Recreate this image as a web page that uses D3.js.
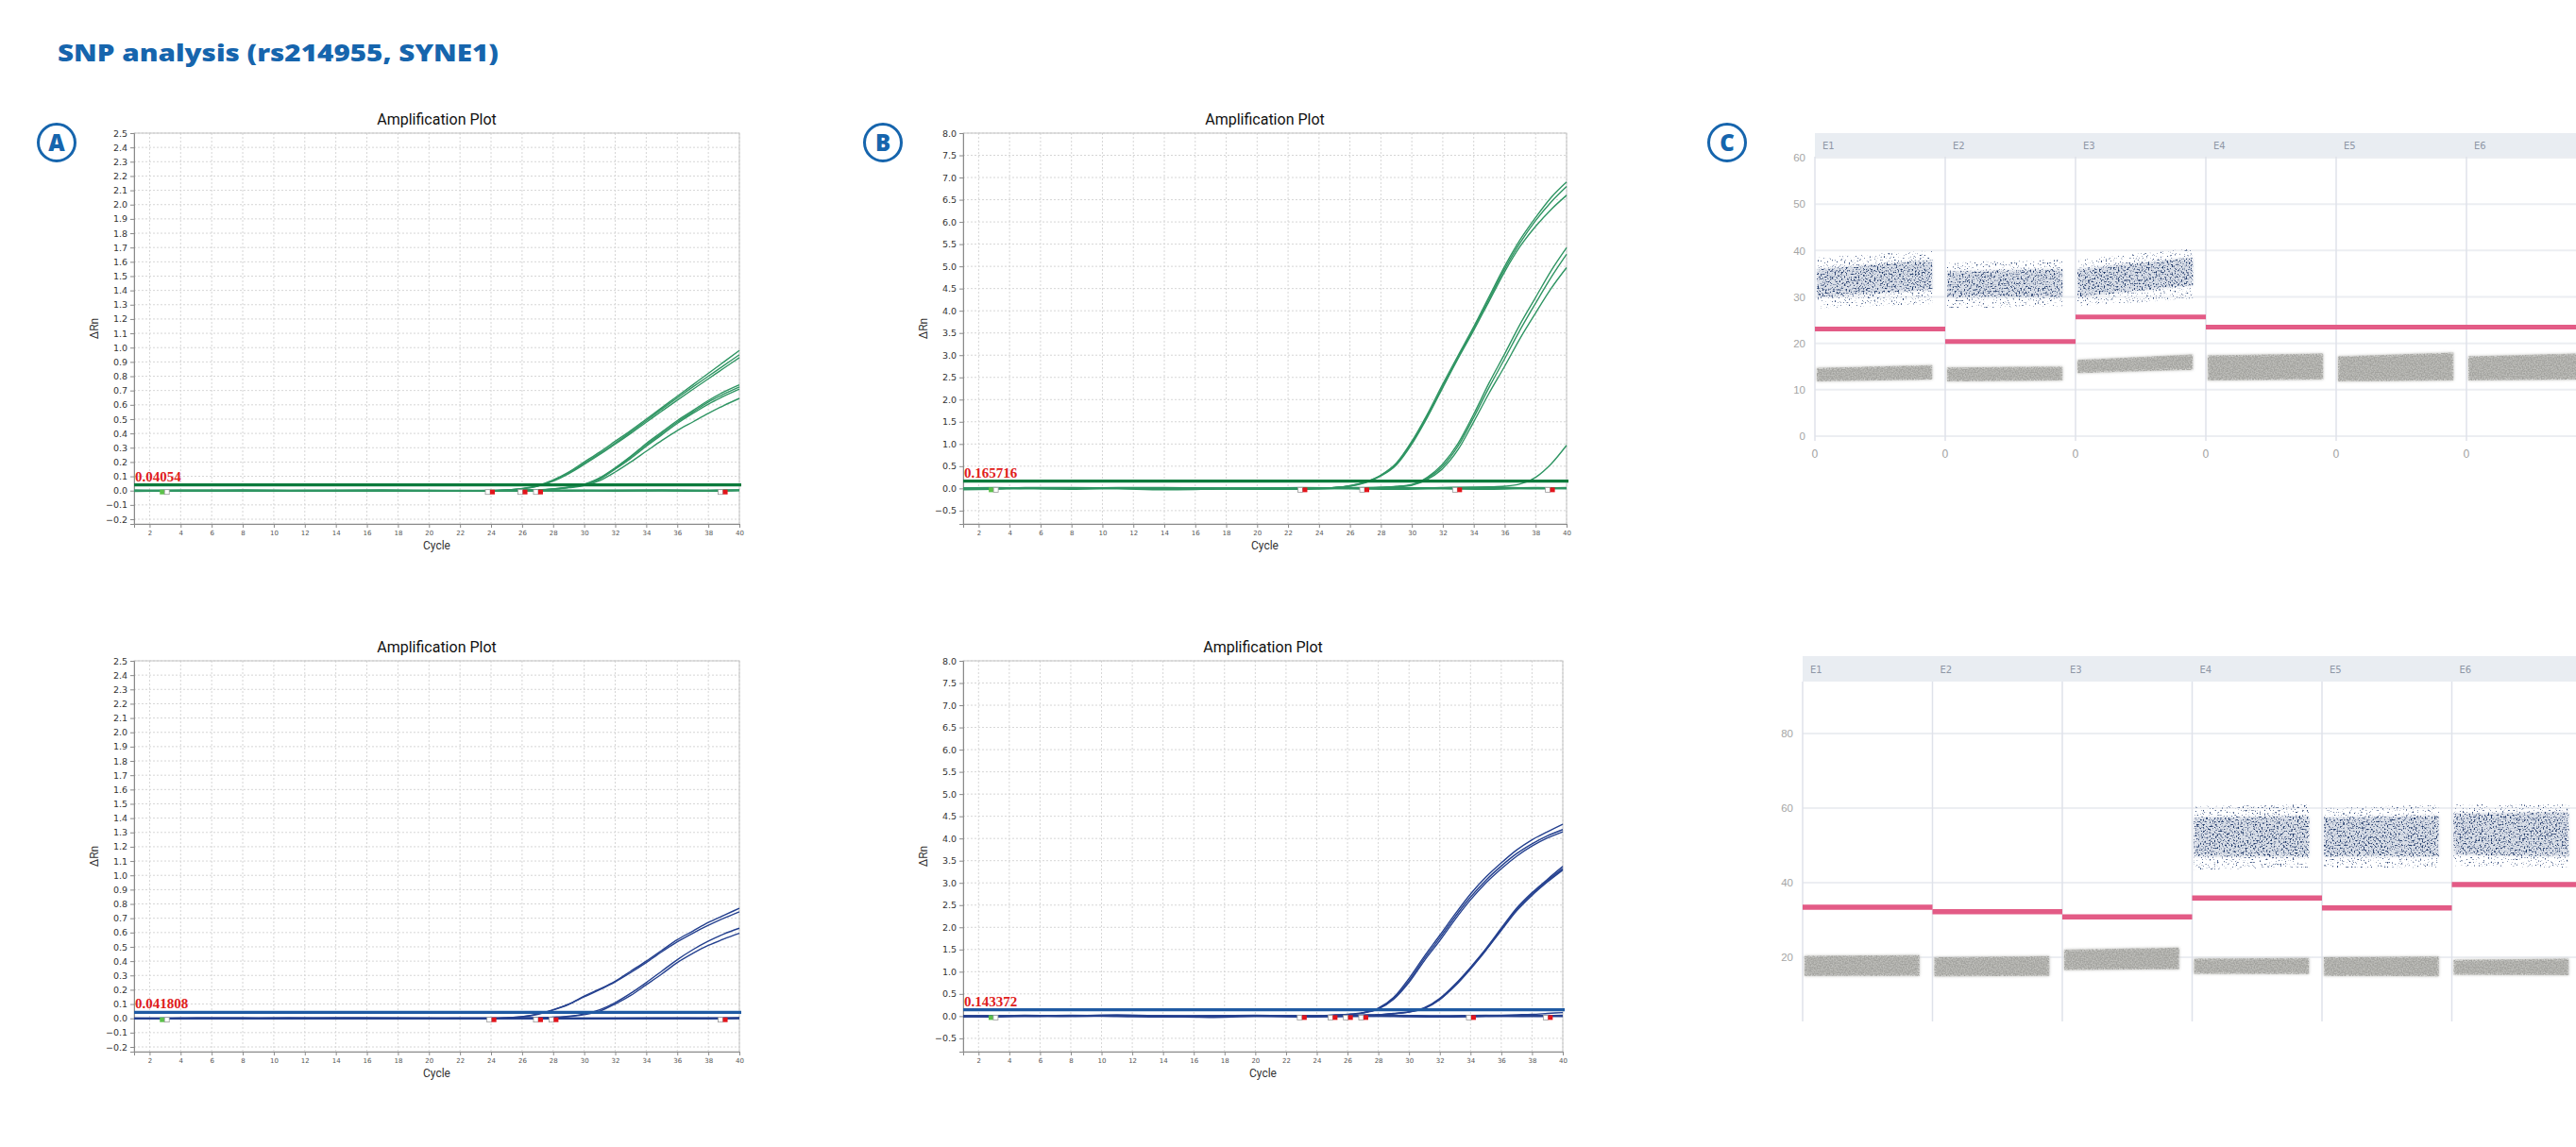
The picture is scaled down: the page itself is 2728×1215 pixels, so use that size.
<!DOCTYPE html>
<html>
<head>
<meta charset="utf-8">
<script src="https://cdn.jsdelivr.net/npm/d3@7"></script>
<style>
  body { margin: 0; background: #fff; }
</style>
</head>
<body>
<div id="chart"></div>
<script>

// ---- amplification plots: cycles and delta Rn values
const cycles = [1, 10, 20, 24, 25, 26, 27, 28, 29, 30, 31, 32, 33, 34, 35, 36, 37, 38, 39, 40];
const baseCycles = [1, 3, 5, 8, 11, 14, 17, 20, 23, 26, 29, 32, 35, 38, 40];
const xTicks = [2, 4, 6, 8, 10, 12, 14, 16, 18, 20, 22, 24, 26, 28, 30, 32, 34, 36, 38, 40];

const yTicksA = [-0.2, -0.1, 0, 0.1, 0.2, 0.3, 0.4, 0.5, 0.6, 0.7, 0.8, 0.9, 1.0, 1.1, 1.2, 1.3, 1.4,
                 1.5, 1.6, 1.7, 1.8, 1.9, 2.0, 2.1, 2.2, 2.3, 2.4, 2.5];
const yTicksB = [-0.5, 0, 0.5, 1.0, 1.5, 2.0, 2.5, 3.0, 3.5, 4.0, 4.5, 5.0, 5.5, 6.0, 6.5, 7.0, 7.5, 8.0];

// A, top row (green)
const curvesTopA = [
  [0, 0, 0, 0, 0.005, 0.015, 0.035, 0.075, 0.13, 0.2, 0.27, 0.345, 0.42, 0.5, 0.58, 0.66, 0.74, 0.82, 0.9, 0.98],
  [0, 0, 0, 0, 0.004, 0.013, 0.032, 0.07, 0.124, 0.19, 0.26, 0.333, 0.41, 0.49, 0.57, 0.648, 0.725, 0.8, 0.875, 0.95],
  [0, 0, 0, 0, 0.004, 0.012, 0.03, 0.066, 0.118, 0.183, 0.252, 0.325, 0.4, 0.478, 0.556, 0.633, 0.708, 0.782, 0.856, 0.93],
  [0, 0, 0, 0, 0, 0.002, 0.005, 0.012, 0.025, 0.045, 0.09, 0.16, 0.24, 0.33, 0.41, 0.49, 0.56, 0.63, 0.69, 0.74],
  [0, 0, 0, 0, 0, 0.002, 0.004, 0.011, 0.023, 0.042, 0.085, 0.155, 0.235, 0.32, 0.4, 0.48, 0.55, 0.62, 0.675, 0.725],
  [0, 0, 0, 0, 0, 0.002, 0.004, 0.01, 0.022, 0.04, 0.08, 0.15, 0.225, 0.31, 0.39, 0.47, 0.54, 0.605, 0.66, 0.71],
  [0, 0, 0, 0, 0, 0.001, 0.003, 0.009, 0.02, 0.035, 0.07, 0.13, 0.2, 0.275, 0.35, 0.42, 0.48, 0.54, 0.595, 0.645]
];
const baseTopA = [
  [0.002, -0.001, 0.001, 0, -0.002, 0.001, 0, -0.002, -0.001, 0.001, -0.001, 0, 0.001, -0.002, 0.002],
  [-0.003, 0.001, 0, 0.002, 0.001, -0.001, 0.002, 0, -0.002, 0, 0.001, -0.001, 0.002, 0.001, 0.003]
];

// B, top row (green)
const curvesTopB = [
  [0, 0, 0, 0.01, 0.02, 0.06, 0.15, 0.3, 0.57, 1.06, 1.67, 2.35, 3.0, 3.64, 4.32, 5.0, 5.6, 6.1, 6.55, 6.9],
  [0, 0, 0, 0.01, 0.02, 0.055, 0.14, 0.29, 0.55, 1.03, 1.63, 2.3, 2.96, 3.6, 4.27, 4.94, 5.53, 6.03, 6.45, 6.8],
  [0, 0, 0, 0.01, 0.02, 0.05, 0.13, 0.28, 0.53, 1.0, 1.6, 2.27, 2.93, 3.56, 4.22, 4.88, 5.45, 5.9, 6.28, 6.6],
  [0, 0, 0, 0, 0, 0.01, 0.015, 0.025, 0.045, 0.09, 0.25, 0.55, 1.02, 1.67, 2.38, 3.03, 3.7, 4.3, 4.9, 5.42],
  [0, 0, 0, 0, 0, 0.01, 0.015, 0.022, 0.04, 0.08, 0.23, 0.5, 0.96, 1.6, 2.28, 2.92, 3.57, 4.17, 4.75, 5.27],
  [0, 0, 0, 0, 0, 0.01, 0.012, 0.02, 0.035, 0.07, 0.2, 0.45, 0.88, 1.5, 2.15, 2.75, 3.38, 3.95, 4.5, 4.97],
  [0, 0, 0, 0, 0, 0, 0, 0, 0, 0.01, 0.01, 0.015, 0.02, 0.025, 0.035, 0.05, 0.1, 0.25, 0.55, 0.97]
];
const baseTopB = [
  [-0.02, -0.01, 0.01, 0.01, 0.0, -0.02, -0.01, 0.0, 0.01, 0.0, -0.01, 0.01, 0.02, 0.0, 0.01],
  [0.0, 0.01, 0.0, -0.01, 0.01, 0.01, 0.0, -0.01, -0.01, 0.01, 0.01, 0.0, -0.01, 0.01, 0.0]
];

// A, bottom row (blue)
const curvesBotA = [
  [0, 0, 0, 0, 0.004, 0.012, 0.03, 0.06, 0.1, 0.155, 0.205, 0.26, 0.33, 0.4, 0.475, 0.55, 0.61, 0.67, 0.72, 0.77],
  [0, 0, 0, 0, 0.004, 0.011, 0.028, 0.058, 0.097, 0.15, 0.2, 0.255, 0.32, 0.39, 0.465, 0.535, 0.595, 0.65, 0.7, 0.745],
  [0, 0, 0, 0, 0, 0.001, 0.003, 0.008, 0.015, 0.03, 0.06, 0.11, 0.175, 0.25, 0.33, 0.41, 0.48, 0.54, 0.59, 0.63],
  [0, 0, 0, 0, 0, 0.001, 0.003, 0.006, 0.012, 0.025, 0.05, 0.1, 0.16, 0.235, 0.31, 0.39, 0.455, 0.51, 0.555, 0.595]
];
const baseBotA = [
  [0.001, -0.002, 0.001, 0, -0.001, 0.002, 0, -0.001, 0.001, 0, -0.002, 0.001, 0, -0.001, 0.002],
  [-0.002, 0.001, 0, 0.001, 0.002, -0.001, 0.001, 0, -0.001, 0.001, 0.001, -0.002, -0.001, 0.001, 0.001]
];

// B, bottom row (blue)
const curvesBotB = [
  [0, 0, 0, 0.01, 0.02, 0.04, 0.08, 0.18, 0.42, 0.85, 1.35, 1.82, 2.3, 2.75, 3.13, 3.45, 3.74, 3.97, 4.15, 4.32],
  [0, 0, 0, 0.01, 0.02, 0.035, 0.075, 0.17, 0.4, 0.8, 1.3, 1.76, 2.24, 2.68, 3.06, 3.38, 3.66, 3.88, 4.06, 4.2],
  [0, 0, 0, 0.01, 0.02, 0.035, 0.07, 0.16, 0.38, 0.76, 1.25, 1.7, 2.18, 2.62, 3.0, 3.32, 3.6, 3.83, 4.01, 4.15],
  [0, 0, 0, 0, 0.005, 0.01, 0.02, 0.03, 0.06, 0.1, 0.19, 0.4, 0.72, 1.1, 1.52, 1.98, 2.43, 2.78, 3.08, 3.37],
  [0, 0, 0, 0, 0.005, 0.01, 0.02, 0.03, 0.055, 0.095, 0.18, 0.38, 0.7, 1.08, 1.5, 1.95, 2.4, 2.75, 3.05, 3.32],
  [0, 0, 0, 0, 0.005, 0.01, 0.02, 0.028, 0.05, 0.09, 0.17, 0.37, 0.68, 1.06, 1.48, 1.93, 2.37, 2.72, 3.02, 3.29],
  [0, 0, 0, 0, 0, 0, 0, 0, 0, 0, 0, 0, 0, 0.01, 0.015, 0.02, 0.03, 0.04, 0.06, 0.08]
];
const baseBotB = [
  [0.0, -0.01, 0.01, 0.0, 0.02, 0.0, -0.02, 0.0, 0.0, 0.01, 0.0, -0.01, 0.0, 0.01, 0.0],
  [-0.01, 0.0, 0.0, 0.01, 0.0, -0.01, 0.0, 0.01, -0.01, 0.0, 0.01, 0.0, 0.01, 0.0, 0.01]
];

const thresholds = [0.04054, 0.165716, 0.041808, 0.143372];
const thresholdLabels = ["0.04054", "0.165716", "0.041808", "0.143372"];
const startMark = 2.9;
const marksTopA = [24.0, 26.1, 27.1, 39.0];
const marksTopB = [23.0, 27.0, 33.0, 39.0];
const marksBotA = [24.1, 27.1, 28.1, 39.0];
const marksBotB = [23.1, 25.1, 26.1, 27.1, 34.1, 39.1];

// ---- droplet plots (C): per well, cloud bands [lowStart, highStart, lowEnd, highEnd]
const wells = ["E1", "E2", "E3", "E4", "E5", "E6"];
const thrTopC = [23.1, 20.4, 25.7, 23.5, 23.5, 23.5];
const blueTopC = [[30, 36, 31.5, 38], [30, 35.5, 30, 36], [30, 36, 32.5, 38.5], null, null, null];
const blueOuterTopC = [[27.5, 38.5, 28.5, 40], [27.5, 37.5, 28, 38], [28, 38, 29.5, 40.5], null, null, null];
const grayTopC = [[11.8, 14.7, 12.2, 15.3], [11.8, 14.8, 12, 15], [13.6, 16.4, 14.3, 17.6],
                  [12, 17.4, 12.2, 17.8], [11.8, 17.2, 12, 18], [12, 17.2, 12.2, 17.8]];
const yTicksTopC = [0, 10, 20, 30, 40, 50, 60];

const thrBotC = [33.4, 32.2, 30.8, 35.9, 33.2, 39.5];
const blueBotC = [null, null, null, [47, 57.5, 47, 58], [47, 57.5, 47, 58], [47.5, 58.5, 47, 59]];
const blueOuterBotC = [null, null, null, [43.5, 60.5, 44, 61], [44, 60, 44, 61], [44.5, 61, 44, 61]];
const grayBotC = [[15, 20.4, 15, 20.6], [14.9, 20, 15, 20.3], [16.6, 22, 16.8, 22.6],
                  [15.6, 19.6, 15.5, 19.8], [15, 20, 14.9, 20.2], [15.3, 19.3, 15.2, 19.6]];
const yTicksBotC = [20, 40, 60, 80];

// ---------------------------------------------------------------
const W = 2728, H = 1215;
const blueTxt = "#1665ad";

const svg = d3.select("#chart").append("svg")
  .attr("width", W).attr("height", H)
  .attr("viewBox", [0, 0, W, H])
  .style("font-family", "'DejaVu Sans', sans-serif");

svg.append("rect").attr("width", W).attr("height", H).attr("fill", "#fff");

const defs = svg.append("defs");

function speckle(id, freq, gain, cut, blur) {
  const f = defs.append("filter").attr("id", id)
    .attr("x", "-5%").attr("y", "-20%").attr("width", "110%").attr("height", "140%");
  f.append("feTurbulence").attr("type", "fractalNoise").attr("baseFrequency", freq)
    .attr("numOctaves", 1).attr("seed", 7).attr("result", "n");
  f.append("feColorMatrix").attr("in", "n").attr("type", "matrix")
    .attr("values", `0 0 0 0 0  0 0 0 0 0  0 0 0 0 0  ${gain} 0 0 0 ${cut}`).attr("result", "m");
  f.append("feComposite").attr("in", "SourceGraphic").attr("in2", "m").attr("operator", "in").attr("result", "c");
  f.append("feGaussianBlur").attr("in", "c").attr("stdDeviation", blur);
}
speckle("speckGray", 0.7, 3, -1.0, 0.7);
speckle("speckBlue", 0.6, 5, -2.55, 0.6);
speckle("speckBlueSparse", 0.6, 7, -4.2, 0.5);

// soft fuzzy edge for the cloud bodies
defs.append("filter").attr("id", "soft").attr("x", "-5%").attr("y", "-30%").attr("width", "110%").attr("height", "160%")
  .append("feGaussianBlur").attr("stdDeviation", 1.6);

// main title
svg.append("text")
  .attr("x", 61).attr("y", 65)
  .attr("font-family", "'Open Sans', sans-serif")
  .attr("font-weight", 800).attr("font-size", 25)
  .attr("textLength", 467).attr("lengthAdjust", "spacingAndGlyphs")
  .attr("fill", blueTxt)
  .text("SNP analysis (rs214955, SYNE1)");

// circled letters
[["A", 60], ["B", 935], ["C", 1829]].forEach(([t, cx]) => {
  const g = svg.append("g").attr("transform", `translate(${cx},151)`);
  g.append("circle").attr("r", 19.5).attr("fill", "#fff").attr("stroke", blueTxt).attr("stroke-width", 3);
  g.append("text").attr("text-anchor", "middle").attr("dy", "0.36em")
    .attr("font-family", "'Open Sans', sans-serif")
    .attr("font-weight", 800).attr("font-size", 24).attr("fill", blueTxt).text(t);
});


function ampPlot(cfg) {
  let x = d3.scaleLinear().domain([1, 40]).range([cfg.left, cfg.right]);
  let y = d3.scaleLinear().domain(cfg.yDomain).range([cfg.bottom, cfg.top]);
  let g = svg.append("g");

  // grid
  g.append("g").selectAll("line").data(xTicks).join("line")
    .attr("x1", d => x(d)).attr("x2", d => x(d))
    .attr("y1", cfg.top).attr("y2", cfg.bottom)
    .attr("stroke", "#d6d6d6").attr("stroke-dasharray", "2,2");
  g.append("g").selectAll("line").data(cfg.yTicks).join("line")
    .attr("x1", cfg.left).attr("x2", cfg.right)
    .attr("y1", d => y(d)).attr("y2", d => y(d))
    .attr("stroke", "#d6d6d6").attr("stroke-dasharray", "2,2");

  g.append("rect")
    .attr("x", cfg.left).attr("y", cfg.top)
    .attr("width", cfg.right - cfg.left).attr("height", cfg.bottom - cfg.top)
    .attr("fill", "none").attr("stroke", "#c4c4c4");

  // axes
  g.append("g").attr("transform", `translate(0,${cfg.bottom})`)
    .call(d3.axisBottom(x).tickValues(xTicks).tickSize(4).tickPadding(3).tickFormat(d3.format("d")))
    .call(a => a.select(".domain").attr("stroke", "#8a8a8a"))
    .call(a => a.selectAll(".tick line").attr("stroke", "#8a8a8a"))
    .call(a => a.selectAll("text").attr("font-size", 7).attr("fill", "#555").attr("font-family", "'DejaVu Sans', sans-serif"));

  g.append("g").attr("transform", `translate(${cfg.left},0)`)
    .call(d3.axisLeft(y).tickValues(cfg.yTicks).tickSize(4).tickPadding(3).tickFormat(d3.format(".1f")))
    .call(a => a.select(".domain").attr("stroke", "#8a8a8a"))
    .call(a => a.selectAll(".tick line").attr("stroke", "#8a8a8a"))
    .call(a => a.selectAll("text").attr("font-size", 9.5).attr("fill", "#333").attr("font-family", "'DejaVu Sans', sans-serif"));

  // titles
  g.append("text").attr("x", (cfg.left + cfg.right) / 2).attr("y", cfg.top - 9)
    .attr("text-anchor", "middle").attr("font-family", "Roboto, sans-serif")
    .attr("font-size", 16).attr("fill", "#111").text("Amplification Plot");
  g.append("text").attr("x", (cfg.left + cfg.right) / 2).attr("y", cfg.bottom + 27)
    .attr("text-anchor", "middle").attr("font-family", "Roboto, sans-serif")
    .attr("font-size", 12).attr("fill", "#333").text("Cycle");
  g.append("text")
    .attr("transform", `translate(${cfg.left - 38},${(cfg.top + cfg.bottom) / 2}) rotate(-90)`)
    .attr("text-anchor", "middle").attr("font-family", "Roboto, sans-serif")
    .attr("font-size", 12).attr("fill", "#333").text("\u0394Rn");

  let line = d3.line()
    .x(d => x(d[0])).y(d => y(d[1]))
    .curve(d3.curveMonotoneX);

  // baselines of the negative wells, drawn heavy like the stacked traces
  g.append("g").attr("fill", "none").attr("stroke", cfg.color).attr("stroke-width", 2.2)
    .selectAll("path").data(cfg.baselines).join("path")
    .attr("d", d => line(d3.zip(baseCycles, d)));

  g.append("g").attr("fill", "none").attr("stroke", cfg.color).attr("stroke-width", 1.4)
    .selectAll("path").data(cfg.curves).join("path")
    .attr("d", d => line(d3.zip(cycles, d)));

  // threshold
  g.append("line")
    .attr("x1", cfg.left).attr("x2", cfg.right + 2)
    .attr("y1", y(cfg.threshold)).attr("y2", y(cfg.threshold))
    .attr("stroke", cfg.thrColor).attr("stroke-width", 3.2);
  g.append("text")
    .attr("x", cfg.left + 1).attr("y", y(cfg.threshold) - 4)
    .attr("font-family", "'Liberation Serif', serif").attr("font-weight", 700)
    .attr("font-size", 15).attr("fill", "#e0201b").text(cfg.thrLabel);

  // baseline start / end markers
  let m = g.append("g");
  m.append("rect").attr("x", x(startMark) - 4).attr("y", y(0) - 1).attr("width", 5).attr("height", 5)
    .attr("fill", "#5cc14a");
  m.append("rect").attr("x", x(startMark) + 1).attr("y", y(0) - 1).attr("width", 5).attr("height", 5)
    .attr("fill", "#fff").attr("stroke", "#999").attr("stroke-width", 0.8);
  m.selectAll("g.end").data(cfg.marks).join("g").attr("class", "end")
    .call(s => s.append("rect").attr("x", d => x(d) - 6).attr("y", y(0) - 1).attr("width", 5).attr("height", 5)
      .attr("fill", "#fff").attr("stroke", "#999").attr("stroke-width", 0.8))
    .call(s => s.append("rect").attr("x", d => x(d) - 1).attr("y", y(0) - 1).attr("width", 5).attr("height", 5)
      .attr("fill", "#e3141b"));
}

const greenCurve = "#2f9563", greenThr = "#0c7a3c";
const navyCurve = "#24408f", blueThr = "#1f5aa3";

ampPlot({ left: 142, right: 783, top: 141, bottom: 555, yDomain: [-0.233, 2.5], yTicks: yTicksA,
  curves: curvesTopA, baselines: baseTopA, threshold: thresholds[0], thrLabel: thresholdLabels[0],
  color: greenCurve, thrColor: greenThr, marks: marksTopA });
ampPlot({ left: 1020, right: 1659, top: 141, bottom: 555, yDomain: [-0.8, 8.0], yTicks: yTicksB,
  curves: curvesTopB, baselines: baseTopB, threshold: thresholds[1], thrLabel: thresholdLabels[1],
  color: greenCurve, thrColor: greenThr, marks: marksTopB });
ampPlot({ left: 142, right: 783, top: 700, bottom: 1114, yDomain: [-0.233, 2.5], yTicks: yTicksA,
  curves: curvesBotA, baselines: baseBotA, threshold: thresholds[2], thrLabel: thresholdLabels[2],
  color: navyCurve, thrColor: blueThr, marks: marksBotA });
ampPlot({ left: 1020, right: 1655, top: 700, bottom: 1114, yDomain: [-0.8, 8.0], yTicks: yTicksB,
  curves: curvesBotB, baselines: baseBotB, threshold: thresholds[3], thrLabel: thresholdLabels[3],
  color: navyCurve, thrColor: blueThr, marks: marksBotB });


function dropletPlot(cfg) {
  let band = d3.scaleBand().domain(wells)
    .range([cfg.left, cfg.left + cfg.colW * wells.length]).paddingInner(0).paddingOuter(0);
  let y = d3.scaleLinear().domain(cfg.yDomain).range(cfg.yRange);
  let g = svg.append("g");
  let right = Math.min(W, band.range()[1]);

  // header strip
  g.append("rect").attr("x", cfg.left).attr("y", cfg.headTop)
    .attr("width", right - cfg.left).attr("height", cfg.headBottom - cfg.headTop)
    .attr("fill", "#e9edf2");
  g.selectAll("text.well").data(wells).join("text").attr("class", "well")
    .attr("x", d => band(d) + 8).attr("y", (cfg.headTop + cfg.headBottom) / 2 + 4)
    .attr("font-size", 10).attr("fill", "#8e97a6").text(d => d);

  // gridlines
  g.append("g").selectAll("line").data(cfg.yTicks).join("line")
    .attr("x1", cfg.left).attr("x2", right)
    .attr("y1", d => y(d)).attr("y2", d => y(d))
    .attr("stroke", "#eceef2").attr("stroke-width", 2);
  g.append("g").selectAll("line").data(wells).join("line")
    .attr("x1", d => band(d)).attr("x2", d => band(d))
    .attr("y1", cfg.headBottom).attr("y2", cfg.plotBottom)
    .attr("stroke", "#dfe2ea").attr("stroke-width", 1.5);

  g.append("g").attr("transform", `translate(${cfg.left - 6},0)`)
    .call(d3.axisLeft(y).tickValues(cfg.yTicks).tickSize(0).tickPadding(4))
    .call(a => a.select(".domain").remove())
    .call(a => a.selectAll("text").attr("font-size", 11.5).attr("fill", "#a5a5a5"));

  if (cfg.zeroLabels) {
    g.selectAll("text.zero").data(wells).join("text").attr("class", "zero")
      .attr("x", d => band(d)).attr("y", cfg.plotBottom + 18)
      .attr("text-anchor", "middle").attr("font-size", 11.5).attr("fill", "#a5a5a5").text("0");
  }

  let bw = band.bandwidth();
  let poly = (w, v) => {
    let x0 = band(w) + 2, x1 = band(w) + bw * 0.9;
    return [[x0, y(v[0])], [x1, y(v[2])], [x1, y(v[3])], [x0, y(v[1])]].join(" ");
  };

  let clouds = g.append("g");
  wells.forEach((w, i) => {
    clouds.append("polygon").attr("points", poly(w, cfg.gray[i]))
      .attr("fill", "#bdbdb9").attr("filter", "url(#soft)");
    clouds.append("polygon").attr("points", poly(w, cfg.gray[i]))
      .attr("fill", "#a2a29e").attr("filter", "url(#speckGray)");
    if (cfg.blueOuter[i]) {
      clouds.append("polygon").attr("points", poly(w, cfg.blueOuter[i]))
        .attr("fill", "#2d4677").attr("filter", "url(#speckBlueSparse)");
    }
    if (cfg.blue[i]) {
      clouds.append("polygon").attr("points", poly(w, cfg.blue[i]))
        .attr("fill", "#c3cad9").attr("opacity", 0.6).attr("filter", "url(#soft)");
      clouds.append("polygon").attr("points", poly(w, cfg.blue[i]))
        .attr("fill", "#1e3768").attr("filter", "url(#speckBlue)");
    }
  });

  // thresholds
  g.append("g").selectAll("line").data(cfg.thr).join("line")
    .attr("x1", (d, i) => band(wells[i])).attr("x2", (d, i) => band(wells[i]) + bw)
    .attr("y1", d => y(d)).attr("y2", d => y(d))
    .attr("stroke", "#e35b86").attr("stroke-width", cfg.thrWidth);
}

dropletPlot({ left: 1922, colW: 138, headTop: 141, headBottom: 166, plotBottom: 467,
  yDomain: [0, 60], yRange: [462, 167], yTicks: yTicksTopC, zeroLabels: true,
  thr: thrTopC, blue: blueTopC, blueOuter: blueOuterTopC, gray: grayTopC, thrWidth: 5 });
dropletPlot({ left: 1909, colW: 137.5, headTop: 695, headBottom: 722, plotBottom: 1082,
  yDomain: [20, 80], yRange: [1014, 777], yTicks: yTicksBotC, zeroLabels: false,
  thr: thrBotC, blue: blueBotC, blueOuter: blueOuterBotC, gray: grayBotC, thrWidth: 5.5 });

</script>
</body>
</html>
